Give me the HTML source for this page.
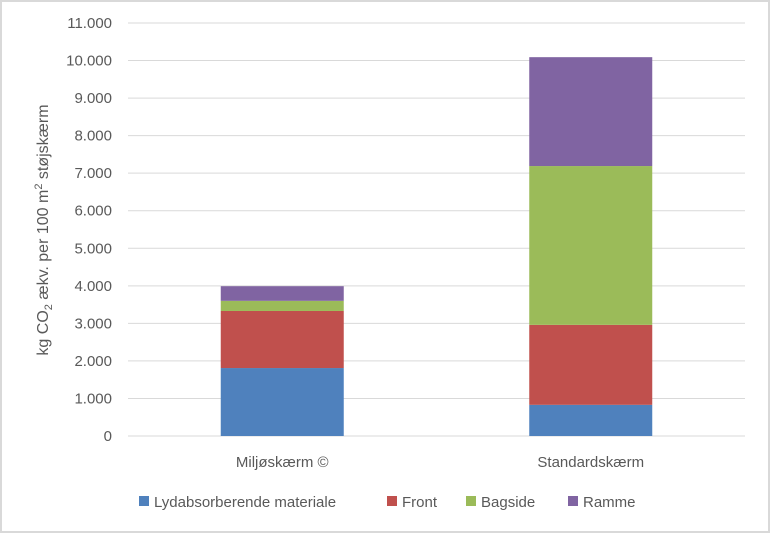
<!DOCTYPE html>
<html><head><meta charset="utf-8"><style>
body{margin:0;background:#fff}
svg{display:block;font-family:"Liberation Sans",sans-serif}
</style></head><body>
<svg width="770" height="533">
<rect x="1" y="1" width="768" height="531" fill="#fff" stroke="#d9d9d9" stroke-width="2"/>
<g id="grid"></g>
<g id="yt"></g>
<g id="bars"></g>
<g id="xt"></g>
<text transform="translate(48,230) rotate(-90)" text-anchor="middle" font-size="16" fill="#595959">kg CO<tspan font-size="11" dy="4">2</tspan><tspan dy="-4"> ækv. per 100 m</tspan><tspan font-size="11" dy="-6">2</tspan><tspan dy="6"> støjskærm</tspan></text>
<g id="legend"></g>
</svg>
<script>
const categories=["Miljøskærm ©","Standardskærm"];
const seriesNames=["Lydabsorberende materiale","Front","Bagside","Ramme"];
const lyd=[1810,830];
const front=[1520,2130];
const bagside=[270,4230];
const ramme=[390,2900];
const yTicks=[0,1000,2000,3000,4000,5000,6000,7000,8000,9000,10000,11000];
const yTickLabels=["0","1.000","2.000","3.000","4.000","5.000","6.000","7.000","8.000","9.000","10.000","11.000"];
const colors=["#4f81bd","#c0504d","#9bbb59","#8064a2"];
const series=[lyd,front,bagside,ramme];
const NS="http://www.w3.org/2000/svg";
const x0=128,x1=745,y0=436,yTop=23,yMax=11000;
const y=v=>y0-(v/yMax)*(y0-yTop);
const band=(x1-x0)/categories.length;
const bw=123;
function mk(tag,attrs,parent){const e=document.createElementNS(NS,tag);for(const k in attrs)e.setAttribute(k,attrs[k]);parent.appendChild(e);return e;}
const grid=document.getElementById('grid'),yt=document.getElementById('yt'),bars=document.getElementById('bars'),xt=document.getElementById('xt'),lg=document.getElementById('legend');
yTicks.forEach((t,i)=>{
 const l=mk('line',{x1:x0,x2:x1,y1:y(t),y2:y(t),stroke:'#d9d9d9','stroke-width':1},grid);
 
 
 const tx=mk('text',{x:112,y:y(t)+5,'text-anchor':'end','font-size':15,fill:'#595959'},yt);
 tx.textContent=yTickLabels[i];
 
 
});
categories.forEach((c,ci)=>{
 const cx=x0+band*(ci+0.5);
 let acc=0;
 series.forEach((s,si)=>{
  const v=s[ci];
  const r=mk('rect',{x:cx-bw/2,y:y(acc+v),width:bw,height:y(acc)-y(acc+v),fill:colors[si]},bars);
  
  
  acc+=v;
 });
 const tx=mk('text',{x:cx,y:467,'text-anchor':'middle','font-size':15,fill:'#595959'},xt);
 tx.textContent=c;
 
 
});
const lx=[139,387,466,568];
seriesNames.forEach((n,i)=>{
 const g=mk('g',{},lg);
 
 
 mk('rect',{x:lx[i],y:496,width:10,height:10,fill:colors[i]},g);
 const t=mk('text',{x:lx[i]+15,y:507,'font-size':15,fill:'#595959'},g);
 t.textContent=n;
});
</script>
</body></html>
